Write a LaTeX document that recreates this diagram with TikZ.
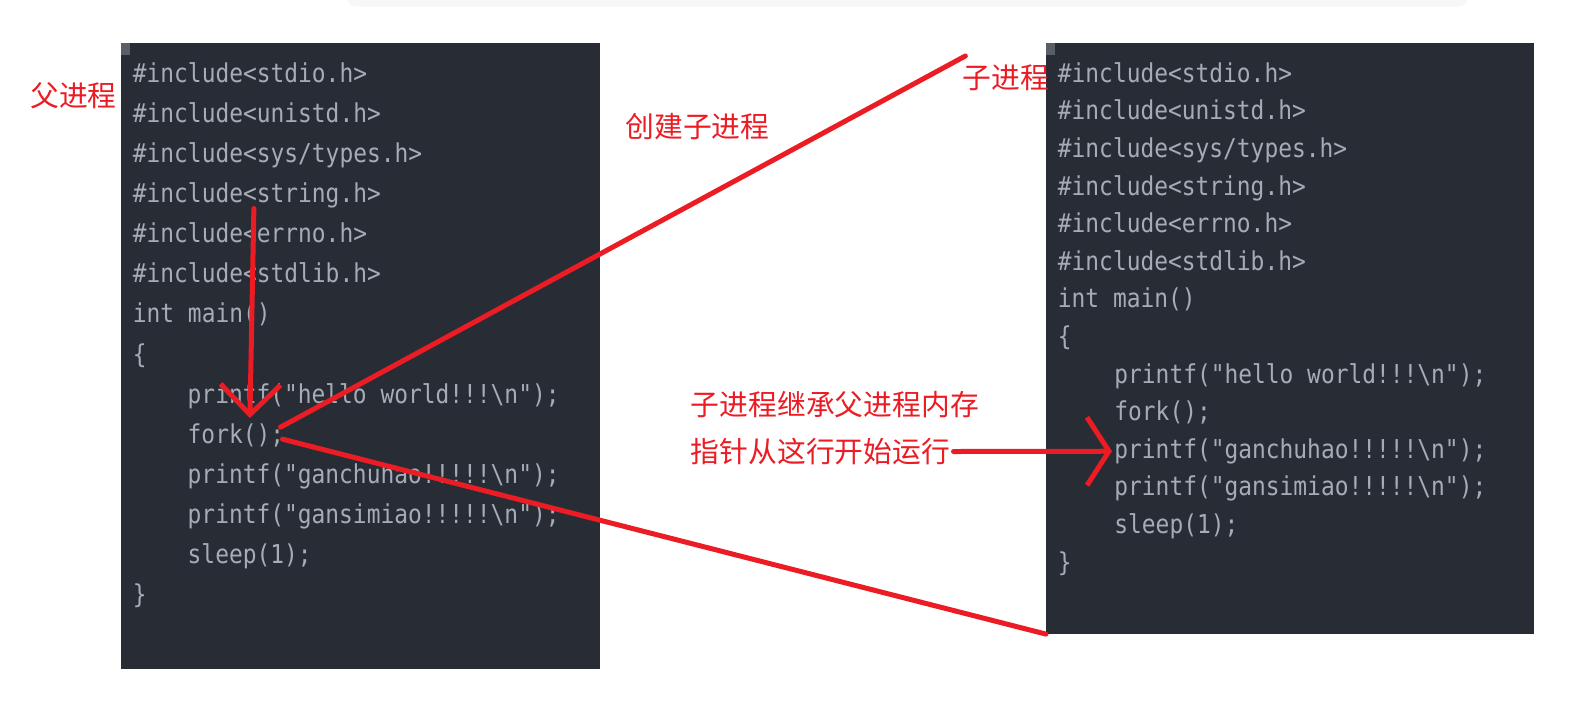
\documentclass[tikz,border=0pt]{standalone}
\usepackage{fontspec}
\setmonofont{DejaVu Sans Mono}[FakeStretch=0.88]
\newfontfamily\cjk{Noto Sans CJK SC}
\usetikzlibrary{arrows.meta,calc,positioning}
\definecolor{panelbg}{RGB}{40,44,53}
\definecolor{codegray}{RGB}{165,172,184}
\definecolor{notchgray}{RGB}{90,94,102}
\definecolor{stripgray}{RGB}{247,247,248}
\definecolor{markred}{RGB}{236,28,36}

\tikzset{
  panel/.style={fill=panelbg, inner sep=0pt, anchor=north west},
  code/.style={text=codegray, font=\ttfamily\fontsize{13}{15}\selectfont,
               inner sep=0pt, anchor=base west},
  note/.style={text=markred, font=\cjk\fontsize{14.4}{17}\selectfont, inner sep=0pt},
  redline/.style={draw=markred, line width=2.5pt, line cap=round, line join=round},
}

\begin{document}
\begin{tikzpicture}[x=0.5pt, y=-0.5pt]
  \useasboundingbox (0,0) rectangle (1596,714);
  \fill[white] (0,0) rectangle (1596,714);
  % strip of the page above
  \fill[stripgray, rounded corners=5pt] (346.7,-20) rectangle (1468,6.7);

  % Parent process source
  \node[panel, minimum width=239.5pt, minimum height=312.75pt] (parent) at (121,43) {};
  \fill[notchgray] (parent.north west) rectangle ++(9,12);
  \node[code] (L1)  at (132.5,82.3)  {\#include<stdio.h>};
  \node[code] (L2)  at (132.5,122.4) {\#include<unistd.h>};
  \node[code] (L3)  at (132.5,162.5) {\#include<sys/types.h>};
  \node[code] (L4)  at (132.5,202.6) {\#include<string.h>};
  \node[code] (L5)  at (132.5,242.7) {\#include<errno.h>};
  \node[code] (L6)  at (132.5,282.8) {\#include<stdlib.h>};
  \node[code] (L7)  at (132.5,322.9) {int main()};
  \node[code] (L8)  at (132.5,363.0) {\{};
  \node[code] (L9)  at (187.3,403.1) {printf("hello world!!!\textbackslash n");};
  \node[code] (L10) at (187.3,443.2) {fork();};
  \node[code] (L11) at (187.3,483.3) {printf("ganchuhao!!!!!\textbackslash n");};
  \node[code] (L12) at (187.3,523.4) {printf("gansimiao!!!!!\textbackslash n");};
  \node[code] (L13) at (187.3,563.5) {sleep(1);};
  \node[code] (L14) at (132.5,603.6) {\}};

  % Child process source
  \node[panel, minimum width=243.75pt, minimum height=295.15pt] (child) at (1046,43) {};
  \fill[notchgray] (child.north west) rectangle ++(9,12);
  \node[code] (R1)  at (1057.5,82.3)  {\#include<stdio.h>};
  \node[code] (R2)  at (1057.5,119.9) {\#include<unistd.h>};
  \node[code] (R3)  at (1057.5,157.5) {\#include<sys/types.h>};
  \node[code] (R4)  at (1057.5,195.1) {\#include<string.h>};
  \node[code] (R5)  at (1057.5,232.7) {\#include<errno.h>};
  \node[code] (R6)  at (1057.5,270.3) {\#include<stdlib.h>};
  \node[code] (R7)  at (1057.5,307.9) {int main()};
  \node[code] (R8)  at (1057.5,345.5) {\{};
  \node[code] (R9)  at (1114,383.1)   {printf("hello world!!!\textbackslash n");};
  \node[code] (R10) at (1114,420.7)   {fork();};
  \node[code] (R11) at (1114,458.3)   {printf("ganchuhao!!!!!\textbackslash n");};
  \node[code] (R12) at (1114,495.9)   {printf("gansimiao!!!!!\textbackslash n");};
  \node[code] (R13) at (1114,533.5)   {sleep(1);};
  \node[code] (R14) at (1057.5,571.1) {\}};

  % Red notes
  \node[note] (parentnote) at (73.6,96) {父进程};
  \node[note] (childnote) at (1006,77.4) {子进程};
  \node[note] (forknote) at (697.5,126.7) {创建子进程};
  \node[note, anchor=west] (inheritnote) at (690.5,405) {子进程继承父进程内存};
  \node[note, anchor=west] (pcnote) at (690.5,451.5) {指针从这行开始运行};

  % Red marks
  \draw[redline, -{Straight Barb[length=15pt,width=30pt]}]
    ($(L4.south)+(-3,0)$) -- ($(L10.north)+(14,-5)$);
  \draw[redline] ($(L10.east)+(-4,-8)$) -- ($(childnote.north west)+(3,-8)$);
  \draw[redline] ($(L10.east)+(-2,4)$) -- (child.south west);
  \draw[redline, -{Straight Barb[length=11pt,width=34pt]}]
    ($(pcnote.east)+(3,0)$) -- ($(R11.west)+(-2,0)$);
\end{tikzpicture}
\end{document}
